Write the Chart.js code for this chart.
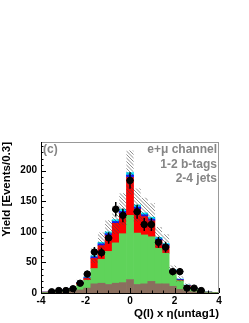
<!DOCTYPE html>
<html>
<head>
<meta charset="utf-8">
<title>Q(l) x eta(untag1)</title>
<script src="https://cdn.jsdelivr.net/npm/chart.js"></script>
<style>
    html, body { margin: 0; padding: 0; background: #fff; }
    #wrap { position: relative; width: 249px; height: 323px; }
</style>
</head>
<body>
<div id="wrap"><canvas id="histo" width="249" height="323"></canvas></div>
<script>
// bin centres (25 bins between -4 and 4)
const binCenters = [-3.84, -3.52, -3.2, -2.88, -2.56, -2.24, -1.92, -1.6, -1.28, -0.96, -0.64, -0.32, 0,
                    0.32, 0.64, 0.96, 1.28, 1.6, 1.92, 2.24, 2.56, 2.88, 3.2, 3.52, 3.84];
const binHalf = 0.16;

// stacked MC components, bottom to top
const brown = [0.3, 0.5, 0.8, 1.2, 3, 5, 8, 15, 16, 14, 16, 17, 22, 14, 15, 19, 15, 15, 11, 6, 3, 2, 1, 0.5, 0.3];
const green = [0.7, 1.5, 2.2, 2.8, 3, 8, 13, 25, 39, 54, 66, 80, 105, 84, 80, 73, 58, 50, 21, 14, 7, 4, 2, 1, 0.7];
const red   = [0.5, 1, 0.8, 0.7, 1.3, 3.6, 2.8, 16.5, 22.5, 26, 32, 33, 62, 39, 30, 26, 13, 12, 3.5, 1, 1.7, 0.3, 0.1, 0, 0];
const blue  = [0, 0, 0.1, 0.2, 0.4, 0.8, 1.2, 2.5, 3, 3, 3, 3.5, 4, 3.5, 3, 3, 2.5, 2, 1.5, 1.2, 0.8, 0.4, 0.2, 0.1, 0];
const cyan  = [0, 0, 0.1, 0.1, 0.3, 0.6, 1, 2, 2.5, 3, 3, 3.5, 4, 3.5, 3, 3, 2.5, 2, 1, 0.8, 0.5, 0.3, 0.2, 0.1, 0];
// MC uncertainty (hatched band)
const mcErr = [0.3, 0.6, 0.8, 1, 1.5, 3.5, 5, 12, 16, 19, 23, 26, 36, 27, 25, 23, 17, 15, 7, 4.5, 2.5, 1.3, 0.7, 0.4, 0.2];

// data
const dataY   = [null, 2, 4, 4, 7, 16, 31, 67, 66, 90, 137, 127, 184, 133, 112, 112, 83, 75, 35, 35, 8, 8, 4, null, null];
const dataErr = [0, 1.4, 2, 2, 2.6, 4, 5.6, 8.2, 8.1, 9.5, 11.7, 11.3, 13.6, 11.5, 10.6, 10.6, 9.1, 8.7, 5.9, 5.9, 2.8, 2.8, 2, 0, 0];

const xTicks = [-4, -2, 0, 2, 4];
const yTicks = [0, 50, 100, 150, 200];

const labelLines = ['e+\u03bc channel', '1-2 b-tags', '2-4 jets'];

const FONT = '"Liberation Sans", Arial, Helvetica, sans-serif';

function stackSet(label, values, color) {
    return {
        type: 'bar',
        label: label,
        data: binCenters.map((x, i) => ({ x: x, y: values[i] })),
        backgroundColor: color,
        borderWidth: 0,
        barPercentage: 1,
        categoryPercentage: 1,
        stack: 'mc',
        order: 1
    };
}

function totals() {
    return binCenters.map((x, i) => brown[i] + green[i] + red[i] + blue[i] + cyan[i]);
}

const rootPlugin = {
    id: 'rootStyle',
    beforeDatasetDraw(chart, args) {
        if (args.meta.type !== 'line') return;
        const ctx = chart.ctx;
        const xs = chart.scales.x, ys = chart.scales.y;
        const area = chart.chartArea;
        const tot = totals();

        // hatched MC uncertainty band
        ctx.save();
        ctx.beginPath();
        ctx.rect(area.left, area.top, area.right - area.left, area.bottom - area.top);
        ctx.clip();
        ctx.beginPath();
        binCenters.forEach((c, i) => {
            const x0 = xs.getPixelForValue(c - binHalf);
            const x1 = xs.getPixelForValue(c + binHalf);
            const y0 = ys.getPixelForValue(tot[i] + mcErr[i]);
            const y1 = ys.getPixelForValue(Math.max(0, tot[i] - mcErr[i]));
            ctx.rect(x0, y0, x1 - x0, y1 - y0);
        });
        ctx.clip();
        ctx.strokeStyle = '#444';
        ctx.lineWidth = 0.6;
        ctx.beginPath();
        const h = area.bottom - area.top;
        for (let k = area.left - h; k < area.right; k += 3.5) {
            ctx.moveTo(k, area.top);
            ctx.lineTo(k + h, area.bottom);
        }
        ctx.stroke();
        ctx.restore();

        // data error bars
        ctx.save();
        ctx.strokeStyle = '#000';
        ctx.lineWidth = 1.5;
        ctx.beginPath();
        binCenters.forEach((c, i) => {
            if (dataY[i] === null) return;
            const px = xs.getPixelForValue(c);
            const py = ys.getPixelForValue(dataY[i]);
            ctx.moveTo(px, ys.getPixelForValue(dataY[i] + dataErr[i]));
            ctx.lineTo(px, ys.getPixelForValue(Math.max(0, dataY[i] - dataErr[i])));
            ctx.moveTo(xs.getPixelForValue(c - binHalf), py);
            ctx.lineTo(xs.getPixelForValue(c + binHalf), py);
        });
        ctx.stroke();
        ctx.restore();
    },
    afterDraw(chart) {
        const ctx = chart.ctx;
        const xs = chart.scales.x, ys = chart.scales.y;
        const a = chart.chartArea;
        ctx.save();
        // frame
        ctx.strokeStyle = '#999';
        ctx.lineWidth = 1;
        ctx.strokeRect(a.left + 0.5, a.top + 0.5, a.right - a.left - 1, a.bottom - a.top);
        ctx.strokeStyle = '#000';
        ctx.beginPath();
        ctx.moveTo(a.left + 0.5, a.top);
        ctx.lineTo(a.left + 0.5, a.bottom + 0.5);
        ctx.lineTo(a.right, a.bottom + 0.5);
        // y ticks
        for (let v = 0; v <= ys.max; v += 10) {
            const py = Math.round(ys.getPixelForValue(v)) + 0.5;
            const len = (v % 50 === 0) ? 5 : 2.5;
            ctx.moveTo(a.left, py);
            ctx.lineTo(a.left + len, py);
        }
        // x ticks
        for (let v = -4; v <= 4; v += 0.5) {
            const px = Math.round(xs.getPixelForValue(v)) + 0.5;
            const len = (v % 2 === 0) ? 5 : 2.5;
            ctx.moveTo(px, a.bottom);
            ctx.lineTo(px, a.bottom - len);
        }
        ctx.stroke();

        // annotations
        ctx.fillStyle = '#858585';
        ctx.font = 'bold 12px ' + FONT;
        ctx.textBaseline = 'middle';
        ctx.textAlign = 'left';
        ctx.fillText('(c)', a.left + 2, a.top + 8);
        ctx.textAlign = 'right';
        labelLines.forEach((t, i) => ctx.fillText(t, a.right - 2, a.top + 8 + i * 14.5));
        ctx.restore();
    }
};

const config = {
    type: 'bar',
    data: {
        datasets: [
            {
                type: 'line',
                label: 'data',
                data: binCenters.map((x, i) => ({ x: x, y: dataY[i] })),
                showLine: false,
                pointRadius: 3.2,
                pointBackgroundColor: '#000',
                pointBorderColor: '#000',
                borderColor: '#000',
                stack: 'data',
                order: 0
            },
            stackSet('other', brown, '#8a6e5e'),
            stackSet('W+jets', green, '#5fd35a'),
            stackSet('ttbar', red, '#ff0000'),
            stackSet('top', blue, '#1010ff'),
            stackSet('Z', cyan, '#00e8ff')
        ]
    },
    options: {
        responsive: false,
        animation: false,
        devicePixelRatio: 1,
        layout: { padding: { left: 0, right: 30, top: 142, bottom: 0 } },
        plugins: {
            legend: { display: false },
            tooltip: { enabled: false }
        },
        scales: {
            x: {
                type: 'linear',
                min: -4,
                max: 4,
                stacked: true,
                offset: false,
                grid: { display: false, drawTicks: false },
                border: { display: false },
                afterBuildTicks: (s) => { s.ticks = xTicks.map(v => ({ value: v })); },
                ticks: {
                    color: '#000',
                    padding: 2,
                    maxRotation: 0,
                    font: { family: FONT, size: 10, weight: 'bold' }
                },
                title: {
                    display: true,
                    text: 'Q(l) x \u03b7(untag1)',
                    align: 'end',
                    color: '#000',
                    padding: { top: 0, bottom: 2 },
                    font: { family: FONT, size: 11.5, weight: 'bold' }
                },
                afterFit: (s) => { s.height = 30; }
            },
            y: {
                min: 0,
                max: 247,
                stacked: true,
                grid: { display: false, drawTicks: false },
                border: { display: false },
                afterBuildTicks: (s) => { s.ticks = yTicks.map(v => ({ value: v })); },
                ticks: {
                    color: '#000',
                    padding: 4,
                    font: { family: FONT, size: 10, weight: 'bold' }
                },
                title: {
                    display: true,
                    text: 'Yield [Events/0.3]',
                    align: 'end',
                    color: '#000',
                    padding: { top: 0, bottom: 0 },
                    font: { family: FONT, size: 11.5, weight: 'bold' }
                },
                afterFit: (s) => { s.width = 41; }
            }
        }
    },
    plugins: [rootPlugin]
};

const histo = new Chart(document.getElementById('histo').getContext('2d'), config);
</script>
</body>
</html>
